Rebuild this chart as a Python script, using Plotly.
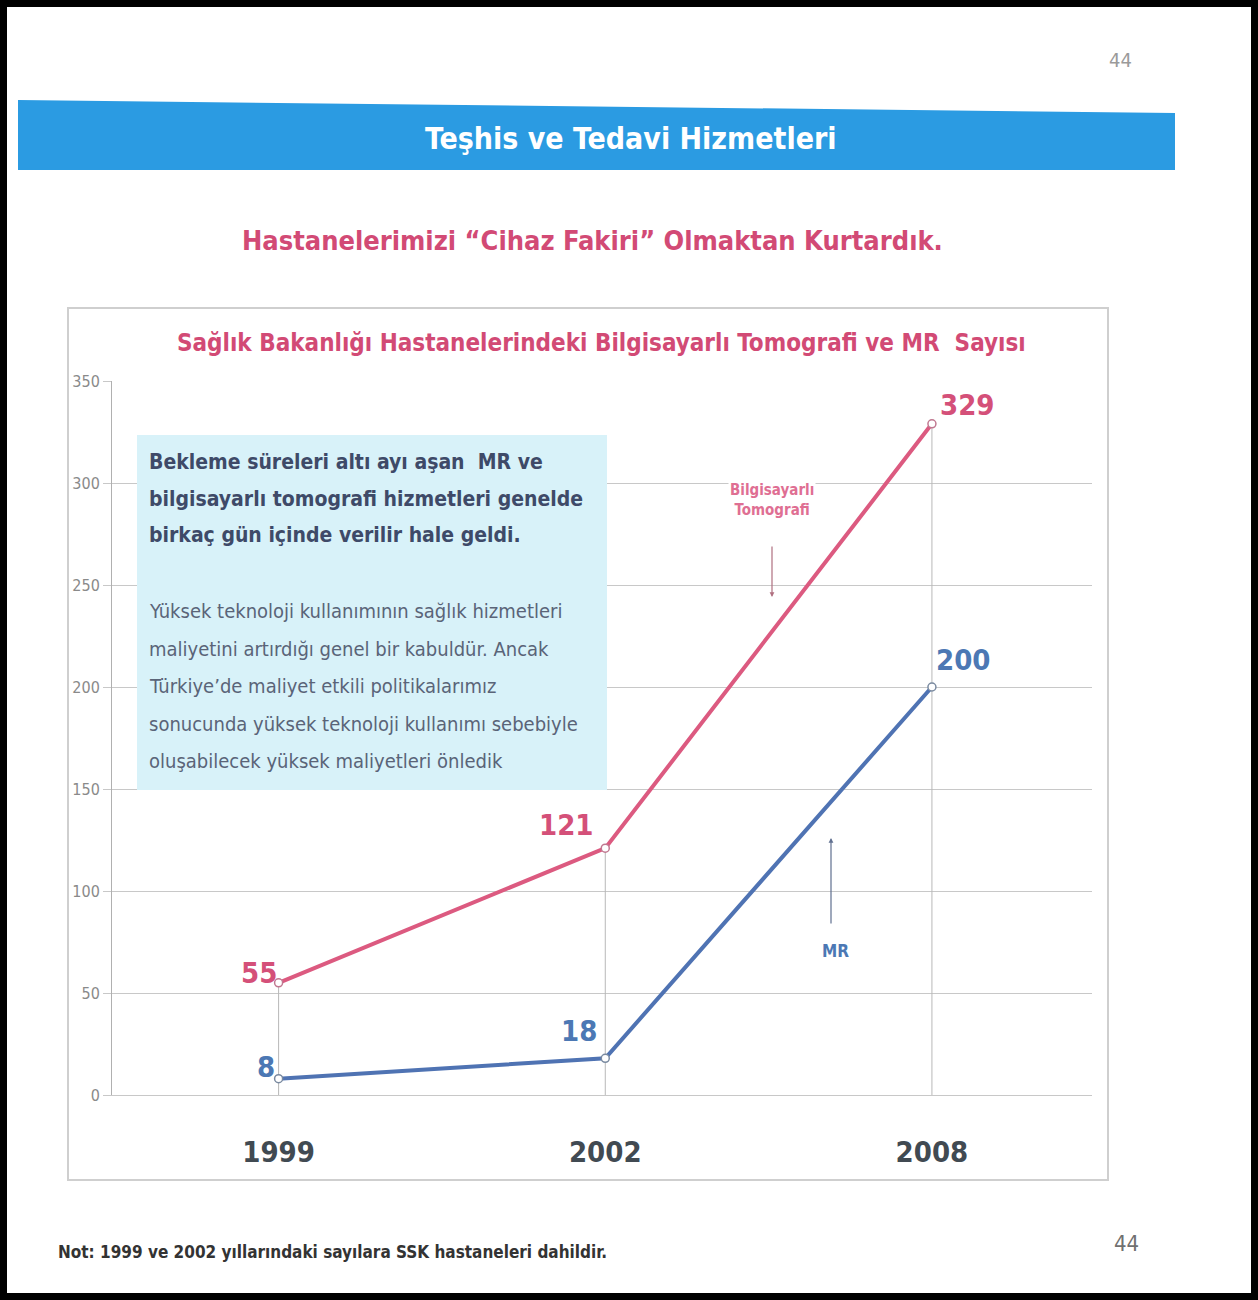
import plotly.graph_objects as go

W, H = 1258, 1300

# Data
years = ["1999", "2002", "2008"]
bt_values = [55, 121, 329]   # Bilgisayarlı Tomografi
mr_values = [8, 18, 200]     # MR
y_ticks = [0, 50, 100, 150, 200, 250, 300, 350]

box_bold_lines = [
    "Bekleme süreleri altı ayı aşan  MR ve",
    "bilgisayarlı tomografi hizmetleri genelde",
    "birkaç gün içinde verilir hale geldi.",
]
box_lines = [
    "Yüksek teknoloji kullanımının sağlık hizmetleri",
    "maliyetini artırdığı genel bir kabuldür. Ancak",
    "Türkiye\u2019de maliyet etkili politikalarımız",
    "sonucunda yüksek teknoloji kullanımı sebebiyle",
    "oluşabilecek yüksek maliyetleri önledik",
]

PINK = "#dc5a80"
PINK_TXT = "#d45079"
BLUE = "#4f73b3"
BLUE_TXT = "#4c78b4"
NARROW = "Liberation Sans Narrow, Arial Narrow, DejaVu Sans Condensed, sans-serif"
COND = "DejaVu Sans Condensed, Verdana, sans-serif"


def px(x):
    return x / W


def py(y):
    return 1 - y / H


def page_text(x, y, text, size, color, family=NARROW, xanchor="center", **kw):
    return dict(x=px(x), y=py(y), xref="paper", yref="paper", text=text, showarrow=False,
                xanchor=xanchor, yanchor="middle",
                font=dict(family=family, size=size, color=color), **kw)


# plot area in pixels
PL, PR, PT, PB = 112, 1092, 381, 1095

fig = go.Figure()

# drop lines from each point down to the axis
for i, yr in enumerate(years):
    fig.add_trace(go.Scatter(
        x=[yr, yr], y=[0, max(bt_values[i], mr_values[i])], mode="lines",
        line=dict(color="#b8b8b8", width=1), hoverinfo="skip", showlegend=False))

fig.add_trace(go.Scatter(
    x=years, y=bt_values, mode="lines+markers", name="Bilgisayarlı Tomografi",
    line=dict(color=PINK, width=4),
    marker=dict(size=8, color="white", line=dict(color="#c07890", width=1.5)),
    showlegend=False))
fig.add_trace(go.Scatter(
    x=years, y=mr_values, mode="lines+markers", name="MR",
    line=dict(color=BLUE, width=4),
    marker=dict(size=8, color="white", line=dict(color="#7a8aa0", width=1.5)),
    showlegend=False))

# value labels (x given as category index)
bt_pos = [dict(xanchor="right", yanchor="middle", xshift=0, yshift=10),
          dict(xanchor="right", yanchor="bottom", xshift=-10, yshift=4),
          dict(xanchor="left", yanchor="bottom", xshift=6, yshift=0)]
mr_pos = [dict(xanchor="right", yanchor="middle", xshift=-2, yshift=12),
          dict(xanchor="right", yanchor="bottom", xshift=-6, yshift=8),
          dict(xanchor="left", yanchor="bottom", xshift=2, yshift=8)]
annotations = []
for i, (v, p) in enumerate(zip(bt_values, bt_pos)):
    annotations.append(dict(x=i, y=v, xref="x", yref="y", text=f"<b>{v}</b>", showarrow=False,
                            font=dict(family=NARROW, size=29, color=PINK_TXT), **p))
for i, (v, p) in enumerate(zip(mr_values, mr_pos)):
    annotations.append(dict(x=i, y=v, xref="x", yref="y", text=f"<b>{v}</b>", showarrow=False,
                            font=dict(family=NARROW, size=29, color=BLUE_TXT), **p))

# page texts
annotations += [
    page_text(631, 138, "<b>Teşhis ve Tedavi Hizmetleri</b>", 30, "white"),
    page_text(592, 240, "<b>Hastanelerimizi \u201cCihaz Fakiri\u201d Olmaktan Kurtardık.</b>", 27, "#d24a75"),
    page_text(601, 343, "<b>Sağlık Bakanlığı Hastanelerindeki Bilgisayarlı Tomografi ve MR  Sayısı</b>",
              24, "#d24a75"),
    page_text(1120, 60, "44", 20, "#9a9a9a"),
    page_text(1126, 1243, "44", 22, "#707070"),
    page_text(56, 1252, "<b>Not: 1999 ve 2002 yıllarındaki sayılara SSK hastaneleri dahildir.</b>",
              17, "#333333", xanchor="left"),
    # series captions with arrows
    page_text(772, 500, "<b>Bilgisayarlı<br>Tomografi</b>", 15, "#df6f93", bgcolor="white"),
    dict(x=px(772), y=py(597), ax=0, ay=-52, xref="paper", yref="paper",
         axref="pixel", ayref="pixel", text="", showarrow=True, arrowhead=2, arrowsize=0.8,
         arrowwidth=1.2, arrowcolor="#b07080"),
    page_text(835, 951, "<b>MR</b>", 17, BLUE_TXT),
    dict(x=px(831), y=py(838), ax=0, ay=87, xref="paper", yref="paper",
         axref="pixel", ayref="pixel", text="", showarrow=True, arrowhead=2, arrowsize=0.8,
         arrowwidth=1.2, arrowcolor="#607090"),
]

# info box text, one annotation per line
for k, line in enumerate(box_bold_lines):
    annotations.append(page_text(147, 462 + k * 36.5, f"<b>{line}</b>", 21, "#3e4a68",
                                 family=COND, xanchor="left"))
for k, line in enumerate(box_lines):
    annotations.append(page_text(147, 611 + k * 37.5, line, 20, "#5a6478",
                                 family=COND, xanchor="left"))

shapes = [
    # header banner
    dict(type="path", xref="paper", yref="paper", layer="below",
         path=f"M {px(18)} {py(100)} L {px(1175)} {py(113)} L {px(1175)} {py(170)} L {px(18)} {py(170)} Z",
         fillcolor="#2b9be2", line=dict(width=0)),
    # chart panel
    dict(type="rect", xref="paper", yref="paper", layer="below",
         x0=px(68), x1=px(1108), y0=py(1180), y1=py(308),
         fillcolor="white", line=dict(color="#cfcfcf", width=2)),
    # info box (covers the gridlines behind it)
    dict(type="rect", xref="paper", yref="paper", layer="above",
         x0=px(137), x1=px(607), y0=py(790), y1=py(435),
         fillcolor="#d8f2f9", line=dict(width=0)),
    # outer frame
    dict(type="rect", xref="paper", yref="paper",
         x0=0, x1=1, y0=0, y1=1, line=dict(color="black", width=14), fillcolor="rgba(0,0,0,0)"),
]

fig.update_layout(
    width=W, height=H, margin=dict(l=0, r=0, t=0, b=0, autoexpand=False),
    paper_bgcolor="white", plot_bgcolor="rgba(0,0,0,0)",
    annotations=annotations, shapes=shapes, showlegend=False,
    xaxis=dict(domain=[px(PL), px(PR)], type="category", categoryorder="array",
               categoryarray=years, range=[-0.51, 2.49], showgrid=False, zeroline=False,
               showline=True, linecolor="#c8c8c8", linewidth=1, ticks="", ticklabelstandoff=31,
               tickfont=dict(family=NARROW, size=29, color="#414a52"),
               tickprefix="<b>", ticksuffix="</b>"),
    yaxis=dict(domain=[py(PB), py(PT)], range=[0, 350], tickvals=y_ticks,
               showgrid=True, gridcolor="#c8c8c8", gridwidth=1, zeroline=False,
               showline=True, linecolor="#b0b0b0", linewidth=1,
               ticks="outside", ticklen=8, tickcolor="#c8c8c8",
               tickfont=dict(family=COND, size=16, color="#8a8a8a")),
)

fig.write_html("out.html")
